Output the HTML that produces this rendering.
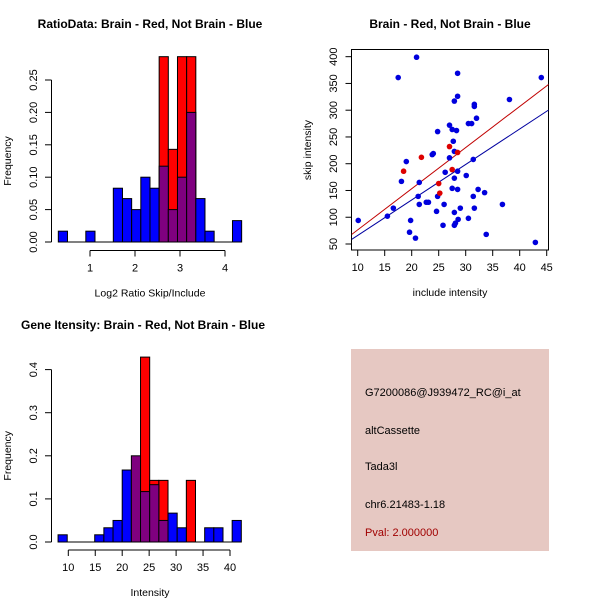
<!DOCTYPE html>
<html><head><meta charset="utf-8"><style>
body{margin:0;background:#fff}
svg{display:block;font-family:"Liberation Sans",sans-serif}
</style></head><body>
<svg id="s" width="600" height="600" viewBox="0 0 600 600" xmlns="http://www.w3.org/2000/svg">
<rect width="600" height="600" fill="#fff"/>
<text x="150" y="28" font-size="12" font-weight="bold" text-anchor="middle">RatioData: Brain - Red, Not Brain - Blue</text>
<text x="450" y="28" font-size="12" font-weight="bold" text-anchor="middle">Brain - Red, Not Brain - Blue</text>
<text x="143" y="329" font-size="12" font-weight="bold" text-anchor="middle">Gene Itensity: Brain - Red, Not Brain - Blue</text>
<g id="g1"></g>
<g id="g2"></g>
<g id="g3"></g>
<g>
<rect x="351" y="349" width="198" height="202" fill="#e6c8c2"/>
<text x="365" y="396" font-size="11">G7200086@J939472_RC@i_at</text>
<text x="365" y="434" font-size="11">altCassette</text>
<text x="365" y="470" font-size="11">Tada3l</text>
<text x="365" y="508" font-size="11">chr6.21483-1.18</text>
<text x="365" y="536" font-size="11" fill="#a00000">Pval: 2.000000</text>
</g>
</svg>
<script>
// ---- Ratio histogram data
const ratioStart = 0.296, ratioWidth = 0.2037;
const ratioBlue = [0.0167,0,0,0.0167,0,0,0.083,0.067,0.05,0.1,0.083,0.117,0.05,0.1,0.2,0.067,0.0167,0,0,0.033];
const ratioRed  = [0,0,0,0,0,0,0,0,0,0,0,0.286,0.143,0.286,0.286,0,0,0,0,0];
const ratioXTicks = [1,2,3,4];
const ratioYTicks = ["0.00","0.05","0.10","0.15","0.20","0.25"];
// ---- Intensity histogram data
const intStart = 8.1, intWidth = 1.7;
const intBlue = [0.0167,0,0,0,0.0167,0.033,0.05,0.167,0.2,0.117,0.133,0.05,0.067,0.033,0,0,0.033,0.033,0,0.05];
const intRed  = [0,0,0,0,0,0,0,0,0.143,0.429,0.143,0.143,0,0,0.143,0,0,0,0,0];
const intXTicks = [10,15,20,25,30,35,40];
const intYTicks = ["0.0","0.1","0.2","0.3","0.4"];
// ---- Scatter data
const blueX = [10.1,17.5,20.9,15.5,16.6,18.1,19.0,19.8,19.6,20.7,21.2,21.4,21.4,22.7,23.1,23.8,24.0,24.8,24.6,24.8,26.0,26.2,25.8,27.0,27.0,27.5,28.3,27.7,27.9,27.9,27.5,27.9,28.5,28.5,27.9,28.5,28.5,27.9,28.1,28.6,29.0,30.1,30.5,30.5,31.1,31.4,32.0,31.6,31.6,31.4,31.6,32.3,33.5,33.8,36.8,38.1,42.9,44.0];
const blueY = [94,361,399,102,117,167,204,94,72,61,139,165,124,128,128,217,219,260,111,139,124,184,85,272,211,264,262,242,223,173,154,109,369,326,317,186,152,85,89,96,117,178,98,275,275,208,285,311,307,139,117,152,146,68,124,320,53,361];
const redX = [18.5,21.8,27.0,28.5,27.5,25.0,25.2];
const redY = [186,212,232,221,189,163,145];
const redFit = [-0.5, 7.69];
const blueFit = [-0.3, 6.63];
const scXTicks = [10,15,20,25,30,35,40,45];
const scYTicks = [50,100,150,200,250,300,350,400];

const NS="http://www.w3.org/2000/svg";
function mk(parent,tag,attrs){const e=document.createElementNS(NS,tag);for(const k in attrs)e.setAttribute(k,attrs[k]);parent.appendChild(e);return e;}

function hist(g, start, width, blue, red, xs, ys, xTicks, yTicks, yMax, yStep, xlab, axY, x0tick, prefix){
  red.forEach((v,i)=>{ if(v<=0)return;
    const r=mk(g,'rect',{x:xs(start+i*width),y:ys(v),width:xs(start+(i+1)*width)-xs(start+i*width),height:ys(0)-ys(v),fill:'#ff0000',stroke:'#000','stroke-width':1});
    
    
  });
  blue.forEach((v,i)=>{ if(v<=0)return;
    const over = red[i]>0;
    const r=mk(g,'rect',{x:xs(start+i*width),y:ys(v),width:xs(start+(i+1)*width)-xs(start+i*width),height:ys(0)-ys(v),fill:over?'#7f007f':'#0000ff',stroke:'#000','stroke-width':1});
    
    
  });
  const n=blue.length;
  const bl=mk(g,'line',{x1:xs(start),x2:xs(start+n*width),y1:ys(0),y2:ys(0),stroke:'#000'});
  
  
  const yl=mk(g,'line',{x1:51.5,x2:51.5,y1:ys(0),y2:ys((yTicks.length-1)*yStep),stroke:'#000'});
  
  
  yTicks.forEach((t,i)=>{const y=ys(i*yStep);
    mk(g,'line',{x1:45,x2:51.5,y1:y,y2:y,stroke:'#000'});
    const tx=mk(g,'text',{x:37,y:y,'font-size':11,'text-anchor':'middle',transform:`rotate(-90 37 ${y})`});
    tx.textContent=t;
    
    
  });
  const xl=mk(g,'line',{x1:xs(xTicks[0]),x2:xs(xTicks[xTicks.length-1]),y1:axY,y2:axY,stroke:'#000'});
  
  
  xTicks.forEach(t=>{const x=xs(t);
    mk(g,'line',{x1:x,x2:x,y1:axY,y2:axY+6,stroke:'#000'});
    const tx=mk(g,'text',{x:x,y:axY+21,'font-size':11,'text-anchor':'middle'});
    tx.textContent=t;
    
    
  });
  const xt=mk(g,'text',{x:150,y:axY+46,'font-size':10.5,'text-anchor':'middle'});
  xt.textContent=xlab;
  
  
  const cy=(ys(0)+ys((yTicks.length-1)*yStep))/2;
  const yt=mk(g,'text',{x:11,y:cy,'font-size':10.5,'text-anchor':'middle',transform:`rotate(-90 11 ${cy})`});
  yt.textContent='Frequency';
  
  
}

hist(document.getElementById('g1'), ratioStart, ratioWidth, ratioBlue, ratioRed,
  v=>90+45*(v-1), v=>242-648*v, ratioXTicks, ratioYTicks, 0.25, 0.05, 'Log2 Ratio Skip/Include', 250.5, 0, 'ratio');
hist(document.getElementById('g3'), intStart, intWidth, intBlue, intRed,
  v=>68.3+5.39*(v-10), v=>542-431*v, intXTicks, intYTicks, 0.4, 0.1, 'Intensity', 550, 0, 'intensity');

(function(){
  const g=document.getElementById('g2');
  const xs=v=>357.7+5.4*(v-10), ys=v=>244-0.5352*(v-50);
  const L=351.5,R=548.5,T=49.5,B=250;
  const fr=mk(g,'rect',{x:L,y:T,width:R-L,height:B-T,fill:'none',stroke:'#000'});
  
  
  const cp=mk(g,'clipPath',{id:'cp'});mk(cp,'rect',{x:L,y:T,width:R-L,height:B-T});
  const pts=mk(g,'g',{'clip-path':'url(#cp)'});
  const xa=8.9, xb=45.5;
  [[blueFit,'#0000a0','blue-fit-line'],[redFit,'#c00000','red-fit-line']].forEach(([f,c,n])=>{
    const l=mk(pts,'line',{x1:xs(xa),y1:ys(f[0]+f[1]*xa),x2:xs(xb),y2:ys(f[0]+f[1]*xb),stroke:c});
    
    
  });
  blueX.forEach((x,i)=>{const c=mk(pts,'circle',{cx:xs(x),cy:ys(blueY[i]),r:2.8,fill:'#0000dd'});
    
    });
  redX.forEach((x,i)=>{const c=mk(pts,'circle',{cx:xs(x),cy:ys(redY[i]),r:2.8,fill:'#dd0000'});
    
    });
  scXTicks.forEach(t=>{const x=xs(t);mk(g,'line',{x1:x,x2:x,y1:B,y2:B+6,stroke:'#000'});
    const tx=mk(g,'text',{x:x,y:B+21,'font-size':11,'text-anchor':'middle'});tx.textContent=t;
    
    });
  scYTicks.forEach(t=>{const y=ys(t);mk(g,'line',{x1:L-6,x2:L,y1:y,y2:y,stroke:'#000'});
    const tx=mk(g,'text',{x:337,y:y,'font-size':11,'text-anchor':'middle',transform:`rotate(-90 337 ${y})`});tx.textContent=t;
    
    });
  const xt=mk(g,'text',{x:450,y:296,'font-size':10.5,'text-anchor':'middle'});xt.textContent='include intensity';
  
  
  const yt=mk(g,'text',{x:311,y:150,'font-size':10.5,'text-anchor':'middle',transform:'rotate(-90 311 150)'});yt.textContent='skip intensity';
  
  
})();
</script>
</body></html>
